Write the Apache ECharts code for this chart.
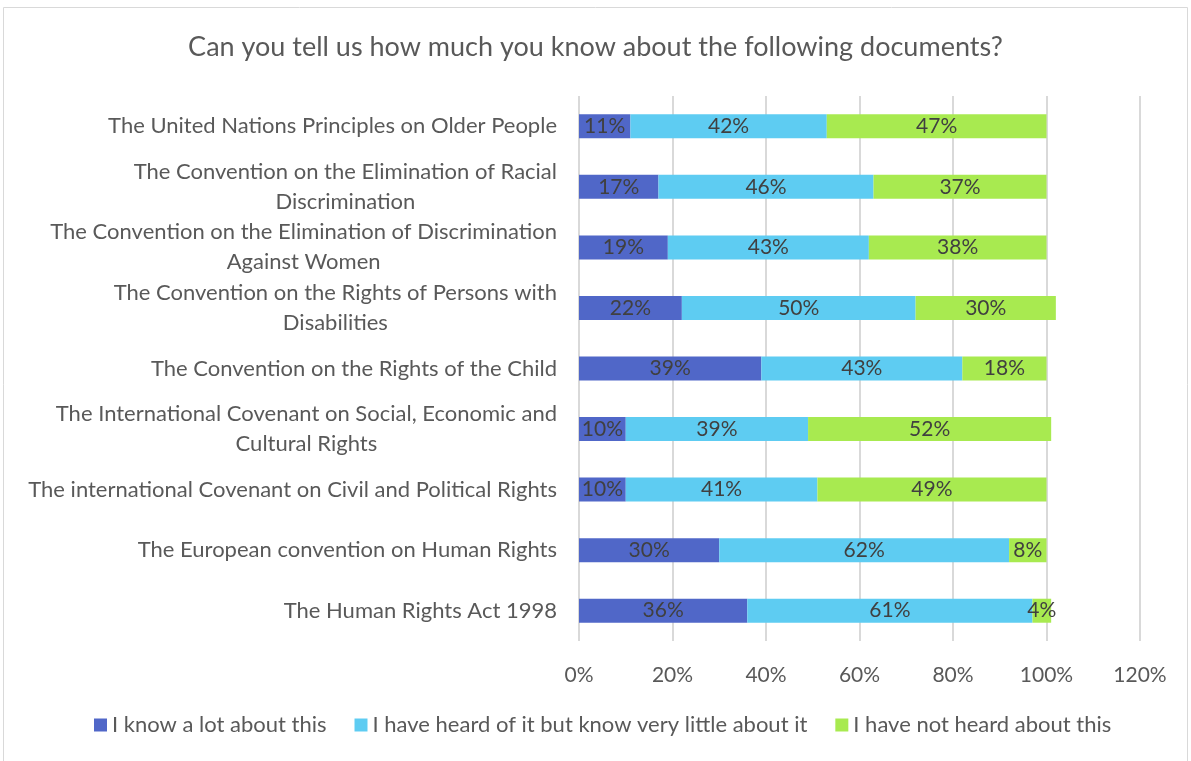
<!DOCTYPE html>
<html><head><meta charset="utf-8">
<script src="https://cdn.jsdelivr.net/npm/echarts@6/dist/echarts.min.js"></script>
<style>html,body{margin:0;padding:0;background:#fff}#c{width:1191px;height:761px}</style>
</head><body><div id="c"></div>
<script>
const categories = [
  "The United Nations Principles on Older People",
  "The Convention on the Elimination of Racial\nDiscrimination",
  "The Convention on the Elimination of Discrimination\nAgainst Women",
  "The Convention on the Rights of Persons with\nDisabilities",
  "The Convention on the Rights of the Child",
  "The International Covenant on Social, Economic and\nCultural Rights",
  "The international Covenant on Civil and Political Rights",
  "The European convention on Human Rights",
  "The Human Rights Act 1998"
];
const knowALot = [11, 17, 19, 22, 39, 10, 10, 30, 36];
const heardLittle = [42, 46, 43, 50, 43, 39, 41, 62, 61];
const notHeard = [47, 37, 38, 30, 18, 52, 49, 8, 4];
const seriesNames = ["I know a lot about this", "I have heard of it but know very little about it", "I have not heard about this"];
const xTicks = [0, 20, 40, 60, 80, 100, 120];

const font = "Lato";
const colors = ["#5067C8", "#5ECCF2", "#A8EA50"];
const chart = echarts.init(document.getElementById('c'), null, {renderer: 'canvas'});
const mk = (name, data, i) => ({
  name, type: 'bar', stack: 'all', data, barWidth: 24,
  itemStyle: {color: colors[i]},
  label: {show: true, position: 'inside', formatter: '{c}%', color: '#404040', fontSize: 21, fontFamily: font}
});
chart.setOption({
  animation: false,
  graphic: [{type: 'rect', shape: {x: 3.5, y: 7.5, width: 1184, height: 760}, style: {fill: 'none', stroke: '#D9D9D9', lineWidth: 1}}],
  title: {text: 'Can you tell us how much you know about the following documents?', left: 'center', top: 29,
    textStyle: {fontFamily: font, fontSize: 27, fontWeight: 'normal', color: '#595959'}},
  legend: {bottom: 20, left: 89, itemWidth: 13, itemHeight: 13, itemGap: 28, icon: 'rect',
    textStyle: {fontFamily: font, fontSize: 22, color: '#595959'}},
  grid: {left: 579, right: 51, top: 96, bottom: 120, containLabel: false},
  xAxis: {type: 'value', min: 0, max: 120, interval: 20,
    axisLine: {show: false}, axisTick: {show: false},
    splitLine: {lineStyle: {color: '#D9D9D9', width: 2}},
    axisLabel: {formatter: v => xTicks.includes(v) ? v + '%' : '', fontFamily: font, fontSize: 21, color: '#595959', margin: 24}},
  yAxis: {type: 'category', data: categories, inverse: true,
    axisLine: {show: false}, axisTick: {show: false},
    axisLabel: {margin: 22, color: '#595959', fontFamily: font, fontSize: 22, lineHeight: 30,
      formatter: v => v.split('\n').map(s => '{c|' + s + '}').join('\n'),
      rich: {c: {align: 'center', fontFamily: font, fontSize: 22, color: '#595959', lineHeight: 30}}}},
  series: [mk(seriesNames[0], knowALot, 0), mk(seriesNames[1], heardLittle, 1), mk(seriesNames[2], notHeard, 2)]
});
</script></body></html>
